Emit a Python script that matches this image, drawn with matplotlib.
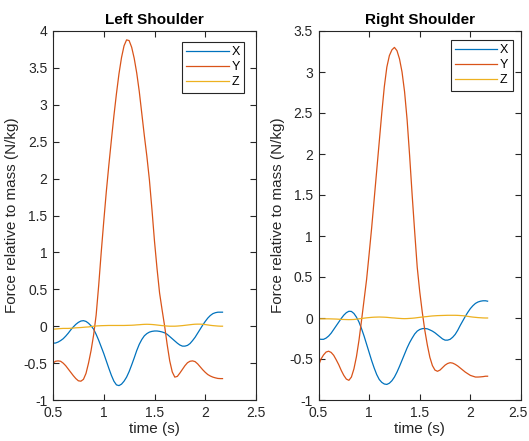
import matplotlib
matplotlib.use("Agg")
import matplotlib.pyplot as plt
from matplotlib.transforms import ScaledTranslation

plt.rcParams['font.family'] = ['Liberation Sans', 'DejaVu Sans']
plt.rcParams['axes.unicode_minus'] = False

t = [0.500, 0.525, 0.550, 0.575, 0.600, 0.625, 0.650, 0.675, 0.700, 0.725,
     0.750, 0.775, 0.800, 0.825, 0.850, 0.875, 0.900, 0.925, 0.950, 0.975,
     1.000, 1.025, 1.050, 1.075, 1.100, 1.125, 1.150, 1.175, 1.200, 1.225,
     1.250, 1.275, 1.300, 1.325, 1.350, 1.375, 1.400, 1.425, 1.450, 1.475,
     1.500, 1.525, 1.550, 1.575, 1.600, 1.625, 1.650, 1.675, 1.700, 1.725,
     1.750, 1.775, 1.800, 1.825, 1.850, 1.875, 1.900, 1.925, 1.950, 1.975,
     2.000, 2.025, 2.050, 2.075, 2.100, 2.125, 2.150, 2.170]

left_x = [-0.23, -0.228, -0.215, -0.195, -0.17, -0.135, -0.095, -0.05, -0.01, 0.025,
          0.052, 0.07, 0.075, 0.065, 0.04, 0.005, -0.04, -0.11, -0.19, -0.28,
          -0.37, -0.47, -0.57, -0.665, -0.745, -0.795, -0.805, -0.785, -0.745, -0.69,
          -0.615, -0.525, -0.43, -0.33, -0.245, -0.18, -0.13, -0.10, -0.08, -0.07,
          -0.065, -0.065, -0.07, -0.078, -0.09, -0.11, -0.14, -0.17, -0.20, -0.23,
          -0.255, -0.27, -0.27, -0.26, -0.235, -0.195, -0.15, -0.095, -0.04, 0.015,
          0.065, 0.11, 0.145, 0.17, 0.183, 0.19, 0.19, 0.19]
left_y = [-0.50, -0.475, -0.47, -0.475, -0.50, -0.535, -0.58, -0.625, -0.67, -0.71,
          -0.74, -0.745, -0.72, -0.64, -0.50, -0.33, -0.12, 0.15, 0.55, 1.00,
          1.42, 1.82, 2.18, 2.52, 2.85, 3.15, 3.42, 3.64, 3.80, 3.88,
          3.87, 3.78, 3.63, 3.43, 3.18, 2.88, 2.58, 2.30, 1.98, 1.58,
          1.15, 0.78, 0.45, 0.22, 0.0, -0.25, -0.47, -0.62, -0.69, -0.68,
          -0.635, -0.585, -0.535, -0.495, -0.475, -0.47, -0.48, -0.51, -0.55, -0.59,
          -0.625, -0.655, -0.675, -0.69, -0.70, -0.708, -0.71, -0.71]
left_z = [-0.04, -0.038, -0.035, -0.032, -0.03, -0.03, -0.03, -0.028, -0.025, -0.022,
          -0.02, -0.018, -0.015, -0.012, -0.01, -0.005, 0.0, 0.003, 0.005, 0.007,
          0.008, 0.009, 0.01, 0.01, 0.01, 0.01, 0.01, 0.01, 0.01, 0.011,
          0.012, 0.013, 0.015, 0.018, 0.02, 0.023, 0.025, 0.026, 0.025, 0.023,
          0.02, 0.016, 0.012, 0.008, 0.005, 0.002, 0.0, 0.0, 0.0, 0.002,
          0.005, 0.008, 0.012, 0.016, 0.02, 0.024, 0.027, 0.028, 0.028, 0.026,
          0.022, 0.017, 0.012, 0.008, 0.005, 0.002, 0.0, 0.0]

right_x = [-0.255, -0.26, -0.26, -0.245, -0.22, -0.185, -0.14, -0.095, -0.05, -0.005,
           0.035, 0.065, 0.082, 0.08, 0.055, 0.01, -0.05, -0.13, -0.22, -0.32,
           -0.42, -0.52, -0.61, -0.69, -0.75, -0.785, -0.805, -0.81, -0.795, -0.765,
           -0.72, -0.66, -0.59, -0.515, -0.44, -0.365, -0.30, -0.245, -0.195, -0.16,
           -0.14, -0.13, -0.128, -0.132, -0.145, -0.16, -0.18, -0.205, -0.23, -0.255,
           -0.27, -0.27, -0.26, -0.235, -0.20, -0.15, -0.09, -0.035, 0.02, 0.07,
           0.115, 0.15, 0.178, 0.195, 0.205, 0.21, 0.21, 0.205]
right_y = [-0.58, -0.50, -0.45, -0.415, -0.405, -0.42, -0.455, -0.51, -0.57, -0.64,
           -0.70, -0.745, -0.76, -0.72, -0.62, -0.47, -0.27, -0.03, 0.22, 0.47,
           0.78, 1.10, 1.45, 1.80, 2.15, 2.50, 2.82, 3.06, 3.20, 3.27,
           3.30, 3.26, 3.16, 3.00, 2.76, 2.42, 1.98, 1.50, 1.05, 0.62,
           0.32, 0.07, -0.15, -0.33, -0.48, -0.58, -0.635, -0.65, -0.635, -0.605,
           -0.575, -0.555, -0.545, -0.55, -0.565, -0.585, -0.61, -0.635, -0.66, -0.68,
           -0.70, -0.71, -0.72, -0.72, -0.718, -0.715, -0.71, -0.71]
right_z = [-0.01, -0.01, -0.01, -0.01, -0.01, -0.011, -0.012, -0.013, -0.015, -0.017,
           -0.018, -0.019, -0.02, -0.019, -0.018, -0.014, -0.01, -0.006, -0.002, 0.002,
           0.005, 0.008, 0.01, 0.011, 0.012, 0.011, 0.01, 0.008, 0.005, 0.002,
           0.0, -0.003, -0.005, -0.007, -0.008, -0.007, -0.005, -0.003, 0.0, 0.004,
           0.008, 0.012, 0.015, 0.018, 0.022, 0.025, 0.027, 0.029, 0.03, 0.031,
           0.032, 0.033, 0.033, 0.033, 0.033, 0.032, 0.03, 0.028, 0.025, 0.02,
           0.015, 0.011, 0.008, 0.005, 0.003, 0.001, 0.0, 0.0]

series_labels = ['X', 'Y', 'Z']
colors = ['#0072BD', '#D95319', '#EDB120']
x_ticks = [0.5, 1, 1.5, 2, 2.5]
x_tick_labels = ['0.5', '1', '1.5', '2', '2.5']
left_yticks = [-1, -0.5, 0, 0.5, 1, 1.5, 2, 2.5, 3, 3.5, 4]
left_ytick_labels = ['-1', '-0.5', '0', '0.5', '1', '1.5', '2', '2.5', '3', '3.5', '4']
right_yticks = [-1, -0.5, 0, 0.5, 1, 1.5, 2, 2.5, 3, 3.5]
right_ytick_labels = ['-1', '-0.5', '0', '0.5', '1', '1.5', '2', '2.5', '3', '3.5']

W, H = 529, 441
fig = plt.figure(figsize=(W / 100, H / 100), dpi=100)

dark = (0.15, 0.15, 0.15)

def make_axes(rect, title, data, yticks, ylabels, ylim, legend_anchor):
    ax = fig.add_axes(rect)
    for vals, lab, c in zip(data, series_labels, colors):
        ax.plot(t, vals, color=c, lw=0.9, label=lab)
    ax.set_xlim(0.5, 2.5)
    ax.set_ylim(*ylim)
    ax.set_xticks(x_ticks)
    ax.set_xticklabels(x_tick_labels)
    ax.set_yticks(yticks)
    ax.set_yticklabels(ylabels)
    ax.tick_params(direction='in', top=True, right=True, length=4, width=0.8,
                   colors=dark, labelsize=10, pad=4)
    for sp in ax.spines.values():
        sp.set_color(dark)
        sp.set_linewidth(0.8)
    ax.set_title(title, fontsize=11, fontweight='bold', pad=5)
    ax.set_xlabel('time (s)', fontsize=11, color=dark, labelpad=2)
    ax.set_ylabel('Force relative to mass (N/kg)', fontsize=11, color=dark, labelpad=3)
    leg = ax.legend(loc='upper right', bbox_to_anchor=legend_anchor, borderaxespad=0,
                    fontsize=9, handlelength=3.4, labelspacing=0.25, handletextpad=0.2,
                    borderpad=0.35, fancybox=False, framealpha=1, edgecolor=dark)
    leg.get_frame().set_linewidth(0.8)
    return ax

make_axes([53 / W, 41 / H, 203 / W, 369 / H], 'Left Shoulder',
          [left_x, left_y, left_z], left_yticks, left_ytick_labels, (-1, 4),
          (0.941, 0.971))
ax_r = make_axes([318.5 / W, 41 / H, 202.5 / W, 369 / H], 'Right Shoulder',
                 [right_x, right_y, right_z], right_yticks, right_ytick_labels, (-1, 3.5),
                 (0.959, 0.976))

# keep the last x tick label of the right panel inside the canvas
last_lab = ax_r.get_xticklabels()[-1]
last_lab.set_transform(last_lab.get_transform() +
                       ScaledTranslation(-0.03, 0, fig.dpi_scale_trans))

fig.savefig('out.png', dpi=100)
